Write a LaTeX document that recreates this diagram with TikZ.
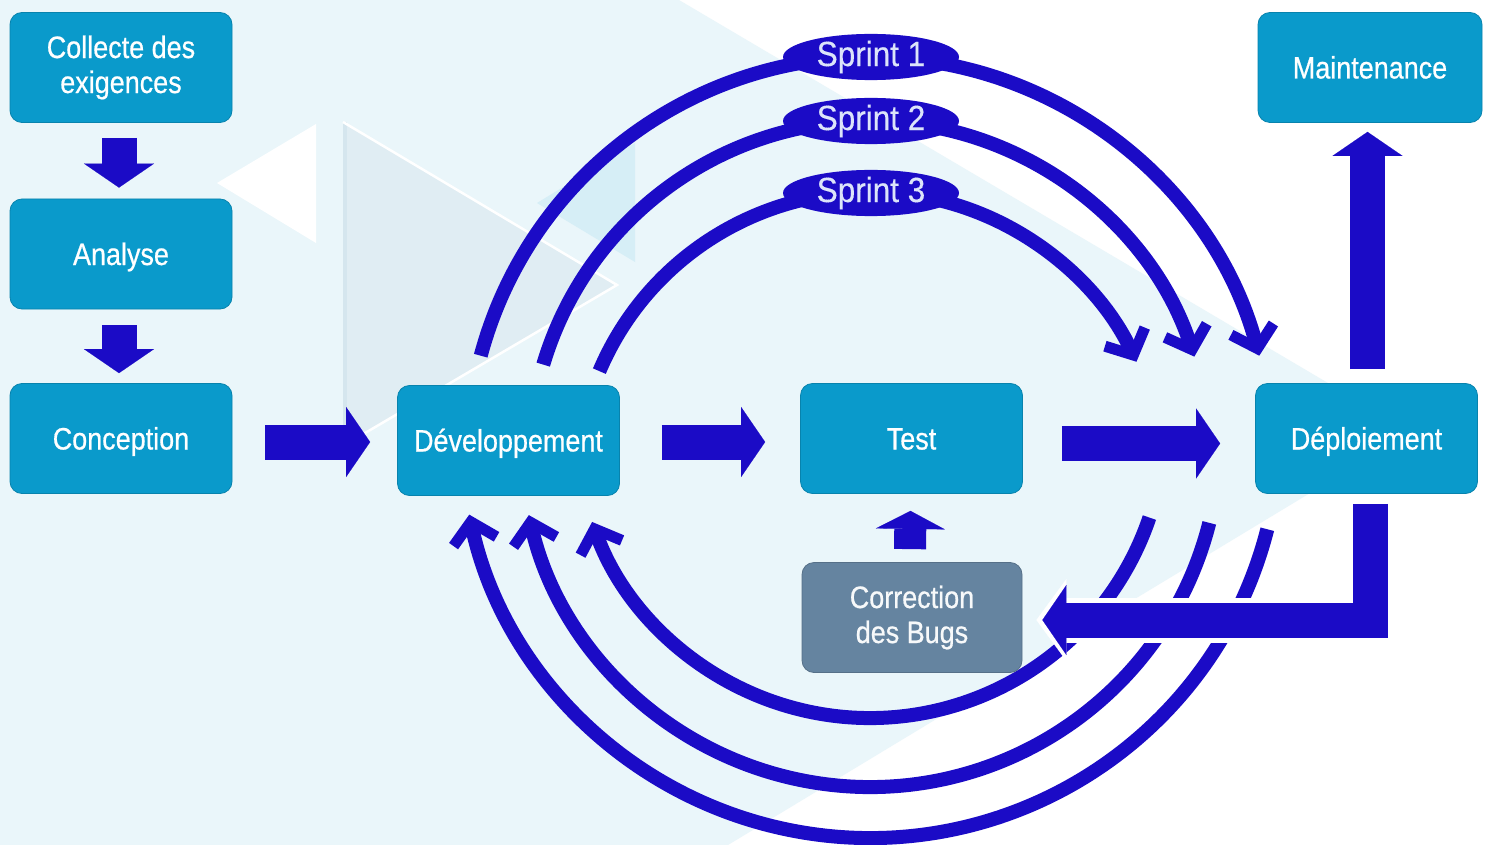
\documentclass[tikz,border=0pt]{standalone}
\usepackage{fontspec}
\setmainfont{Liberation Sans}
\newfontfamily\boxfont{Liberation Sans}[FakeStretch=0.87,FakeBold=0.6]
\newfontfamily\sprintfont{Liberation Sans}[FakeStretch=0.9,FakeBold=0.3]
\usetikzlibrary{arrows.meta,shapes.geometric,calc}
\definecolor{bgblue}{HTML}{EAF6FA}
\definecolor{boxblue}{HTML}{0A9ACB}
\definecolor{bugslate}{HTML}{6584A0}
\definecolor{arrowblue}{HTML}{1B0BC6}
\definecolor{sprinttext}{HTML}{DCE4FA}
\definecolor{trigrey}{HTML}{E0EDF3}
\definecolor{tricyan}{HTML}{D6EEF6}
\definecolor{triedge}{HTML}{D5E6EE}
\begin{document}
\begin{tikzpicture}[x=1pt,y=-1pt,
  stagebox/.style={rounded corners=12pt, fill=boxblue, draw=boxblue!85!black, line width=0.8pt,
    minimum width=222pt, minimum height=110pt, text=white,
    font=\boxfont\fontsize{31}{35}\selectfont, align=center, inner sep=0pt},
  oneline/.style={text height=22pt, text depth=0pt},
  bugbox/.style={stagebox, fill=bugslate, draw=bugslate!85!black, text=white!95!bugslate},
  sprintlabel/.style={ellipse, fill=arrowblue, minimum width=176pt, minimum height=46pt,
    inner sep=0pt, text=sprinttext, font=\sprintfont\fontsize{35}{40}\selectfont},
  blockarrow/.style={draw=arrowblue, line width=35pt,
    -{Triangle[length=24pt, width=70pt, line width=0.1pt]}},
  looparrow/.style={draw=arrowblue, line width=14pt,
    -{Straight Barb[length=20pt, width=44pt, line width=11pt]}},
]
\useasboundingbox (0,0) rectangle (1488,845);
% background
\fill[white] (0,0) rectangle (1488,845);
\fill[bgblue] (0,0) -- (679,0) -- (1411,432) -- (728,845) -- (0,845) -- cycle;
\fill[white] (217,183) -- (316,124) -- (316,243) -- cycle;
\fill[trigrey] (343,122) -- (617,285) -- (343,446) -- cycle;
\draw[triedge, line width=4pt] (345,122) -- (345,446);
\fill[tricyan] (537,203) -- (635,143) -- (635,262) -- cycle;
\draw[white, line width=2.5pt] (343,122) -- (617,285) -- (343,446);

% sprint loops (top)
\coordinate (ct1) at (870,460);
\coordinate (ct2) at (870,462);
\coordinate (ct3) at (870,486);
\draw[looparrow] ($(ct1)+(195:403)$) arc[start angle=195, end angle=345, radius=403];
\draw[looparrow] ($(ct2)+(196.6:341)$) arc[start angle=196.6, end angle=342, radius=341];
\draw[looparrow] ($(ct3)+(203:294)$) arc[start angle=203, end angle=335, radius=294];

% return loops (bottom)
\coordinate (cb1) at (870,423);
\coordinate (cb2) at (870,437);
\coordinate (cb3) at (870,428);
\draw[looparrow] ($(cb1)+(18.7:295)$) arc[start angle=18.7, end angle=160.4, radius=295];
\draw[looparrow] ($(cb2)+(14.2:350)$) arc[start angle=14.2, end angle=167.1, radius=350];
\draw[looparrow] ($(cb3)+(14.3:410)$) arc[start angle=14.3, end angle=167.8, radius=410];

% stage boxes
\node[stagebox] (coll) at (121,67.5) {Collecte des\\exigences};
\node[stagebox, oneline] (ana) at (121,254) {Analyse};
\node[stagebox, oneline] (conc) at (121,438.5) {Conception};
\node[stagebox, oneline] (dev) at (508.5,440.5) {Développement};
\node[stagebox, oneline] (test) at (911.5,438.5) {Test};
\node[stagebox, oneline] (dep) at (1366.5,438.5) {Déploiement};
\node[stagebox, oneline, minimum width=224pt] (maint) at (1370,67.5) {Maintenance};
\node[bugbox, minimum width=220pt] (corr) at (912,617.5) {Correction\\des Bugs};

% sprint labels
\node[sprintlabel] (s1) at (871,57) {Sprint 1};
\node[sprintlabel] (s2) at (871,121) {Sprint 2};
\node[sprintlabel] (s3) at (871,193) {Sprint 3};

% block arrows
\draw[blockarrow] ($(coll.south)+(-2,15)$) -- ($(ana.north)+(-2,-11)$);
\draw[blockarrow] ($(ana.south)+(-2,16)$) -- ($(conc.north)+(-2,-10)$);
\draw[blockarrow] ($(conc.east)+(33,3.5)$) -- ($(dev.west)+(-27,1.5)$);
\draw[blockarrow] ($(dev.east)+(42,1.5)$) -- ($(test.west)+(-35,3.5)$);
\draw[blockarrow] ($(test.east)+(39,5)$) -- ($(dep.west)+(-35,5)$);
\draw[blockarrow] ($(dep.north)+(1,-14)$) -- ($(dep.north |- maint.south)+(1,9)$);
\draw[blockarrow, line width=32pt, -{Triangle[length=18pt, width=69pt, line width=0.1pt]}]
  ($(corr.north)+(-2,-13)$) -- ($(test.south)+(-1,17)$);

% L-shaped arrow from deployment back to bug fixing
\coordinate (lstart) at ($(dep.south)+(3.5,10)$);
\coordinate (ltip) at ($(corr.east)+(20,2.5)$);
\draw[white, line width=45pt, -{Triangle[length=30pt, width=82pt, line width=0.1pt]}]
  (lstart) |- ($(ltip)+(-6,0)$);
\draw[blockarrow, line join=miter] (lstart) |- (ltip);
\end{tikzpicture}
\end{document}
